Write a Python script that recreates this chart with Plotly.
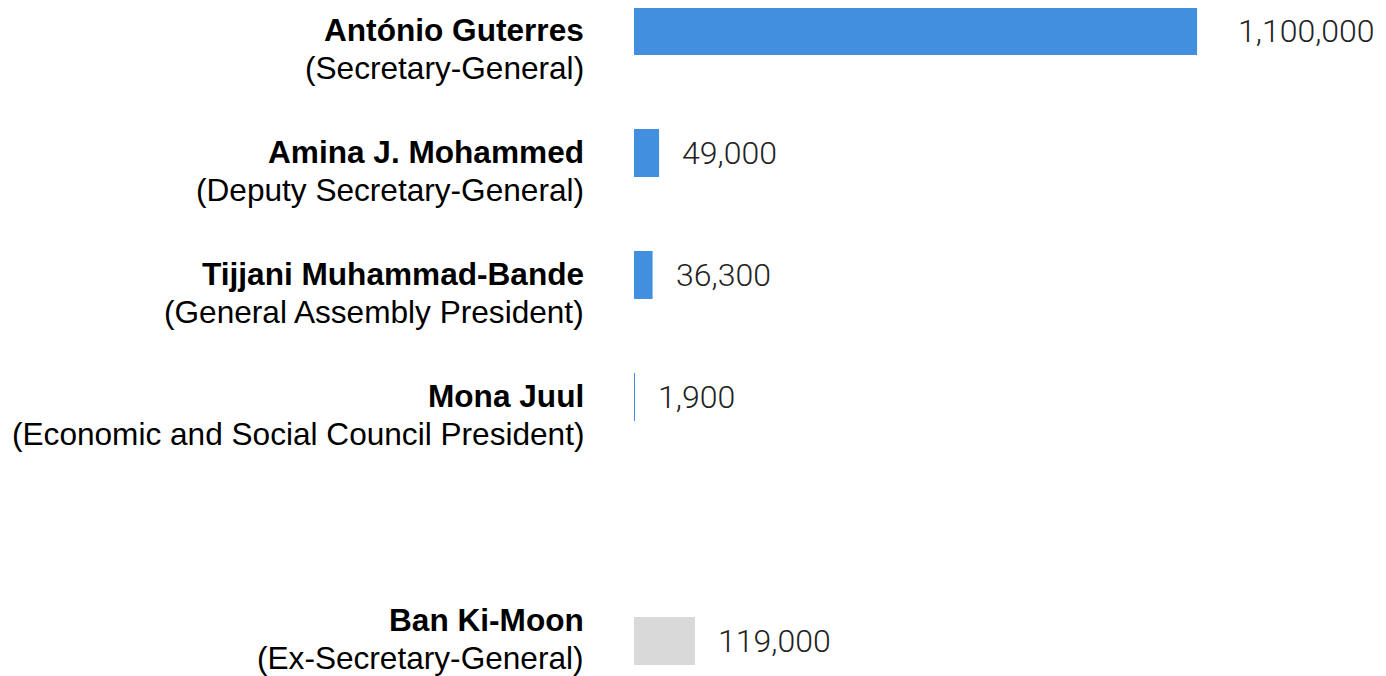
import plotly.graph_objects as go

names = ["António Guterres", "Amina J. Mohammed", "Tijjani Muhammad-Bande", "Mona Juul", "Ban Ki-Moon"]
roles = ["Secretary-General", "Deputy Secretary-General", "General Assembly President",
         "Economic and Social Council President", "Ex-Secretary-General"]
values = [1100000, 49000, 36300, 1900, 119000]
slots = [0, 1, 2, 3, 5]
current = [True, True, True, True, False]

BLUE = "#418FDE"
GRAY = "#D9D9D9"
LABEL_FONT = "Liberation Sans, Arial, sans-serif"
LABEL_SIZE = 31.6

fig = go.Figure()
fig.add_trace(go.Bar(
    x=values, y=slots, orientation="h",
    marker=dict(color=[BLUE if c else GRAY for c in current], line=dict(width=0)),
    width=0.393, hoverinfo="skip",
))

last_slot = max(slots)
annotations = []
for n, r, v, s in zip(names, roles, values, slots):
    # labels of the last row are lifted so they stay inside the frame
    lift = 20 if s == last_slot else 0
    annotations.append(dict(
        x=0, xref="paper", y=s, yref="y", xanchor="right", yanchor="middle",
        xshift=-49, yshift=1 + lift, align="right", showarrow=False, borderpad=0,
        text=f"<b>{n}</b>",
        font=dict(family=LABEL_FONT, size=LABEL_SIZE, color="#000000"),
    ))
    annotations.append(dict(
        x=0, xref="paper", y=s, yref="y", xanchor="right", yanchor="middle",
        xshift=-49, yshift=-37 + lift, align="right", showarrow=False, borderpad=0,
        text=f"({r})",
        font=dict(family=LABEL_FONT, size=LABEL_SIZE, color="#000000"),
    ))
    annotations.append(dict(
        x=v, xref="x", y=s, yref="y", xanchor="left", yanchor="middle",
        xshift=39 if v == max(values) else 21, showarrow=False,
        text=f"{v:,}",
        font=dict(family="Roboto, Liberation Sans, sans-serif", size=32, color="#222222", weight=300),
    ))

fig.update_layout(
    width=1378, height=668,
    margin=dict(l=626, r=0, t=0, b=0),
    paper_bgcolor="white", plot_bgcolor="white",
    showlegend=False,
    xaxis=dict(range=[0, 1469000], visible=False, fixedrange=True),
    yaxis=dict(range=[5.287, -0.1885], visible=False, fixedrange=True),
    annotations=annotations,
)

fig.write_html("out.html", config={"displayModeBar": False})
